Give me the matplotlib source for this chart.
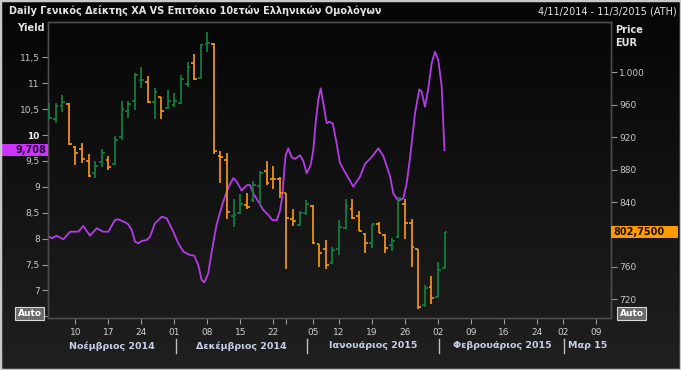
import numpy as np
import pandas as pd
import matplotlib
matplotlib.use('Agg')
import matplotlib.pyplot as plt
from matplotlib.patches import Rectangle
from matplotlib.lines import Line2D
from matplotlib.colors import LinearSegmentedColormap
from matplotlib.transforms import blended_transform_factory

plt.rcParams['font.family'] = ['DejaVu Sans']

# ---------------- data ----------------
holidays = ['2014-12-24', '2014-12-25', '2014-12-26', '2015-01-01', '2015-01-06', '2015-02-23']
dates = pd.bdate_range('2014-11-04', '2015-03-11', freq='C', holidays=holidays)

price_open = [943, 942, 958, 961, 908, 906, 890, 876, 889, 892, 887, 920, 952, 964, 990, 988,
              963, 969, 955.5, 960, 962, 985, 1012, 993.5, 1035, 1035, 897, 892, 823, 826, 836,
              842, 860, 878.5, 869, 869, 851, 819, 811.5, 827, 835, 788, 782, 764.5, 782, 808,
              831, 823, 800, 789, 813, 799, 787, 797, 837, 814, 781.5, 713, 735, 723, 758.5]
price_high = [962, 962, 972, 962, 909, 913, 899, 890, 905, 897, 921, 965, 964, 999, 1006, 995,
              980, 970, 978, 974, 997, 1013, 1023, 1034.5, 1050, 1035.5, 903, 900, 843.5, 849.5,
              851, 866.5, 878.5, 891, 884, 870.5, 851.5, 831, 829, 842.5, 836, 788.3, 793, 784.5,
              818, 843.5, 843.5, 828.5, 801.5, 813, 815.5, 800, 796, 846, 843.5, 819, 782, 738,
              748.5, 766, 802.75]
price_low = [943, 937, 951, 910, 886, 888, 871, 870, 883, 879, 886, 917, 944, 953, 980, 962,
             943, 943, 955, 957, 961, 982, 991, 992.5, 1025, 899, 863, 819, 809.5, 825.5, 832,
             840, 836, 861, 855.5, 844.5, 757, 810.5, 810.5, 824, 788, 760, 758, 763.5, 775, 807,
             819, 804.5, 777.5, 783, 801.5, 777.5, 780, 796, 794, 760, 708, 710.5, 714, 722.5, 758]
price_close = [944, 958, 963, 911, 901, 893, 872, 884, 900, 883, 917, 955, 961, 997, 991, 963,
               976, 952, 965, 964, 992, 1007, 992, 1033.5, 1036, 903, 895, 828, 824.5, 837, 834,
               861, 876, 863, 868, 851, 820, 816, 826.5, 838, 789, 777.7, 762, 781, 809, 835,
               820, 804.6, 790, 812.5, 802, 783, 792.5, 844.5, 814, 784, 710.5, 733.5, 722, 756,
               802.75]

# yield curve samples (position in trading days from 4/11/2014, yield %)
yield_pos = [-0.22, 0.39, 1.15, 2.15, 3.17, 4.42, 5.18, 6.20, 7.22, 8.22, 8.98, 9.99, 10.49,
             11.51, 12.01, 12.53, 13.03, 13.53, 14.05, 14.80, 15.31, 16.06, 17.08, 17.84, 18.60,
             19.60, 20.36, 21.37, 22.03, 22.63, 23.15, 23.54, 24.15, 24.67, 25.43, 26.43, 27.19,
             27.95, 28.46, 29.22, 29.98, 30.48, 30.98, 31.74, 32.50, 33.26, 33.86, 34.53, 35.03,
             35.38, 35.68, 35.90, 36.29, 36.81, 37.31, 38.07, 38.57, 39.08, 39.69, 40.08, 40.49,
             40.84, 41.21, 41.60, 42.12, 42.51, 43.03, 43.53, 44.14, 45.15, 46.15, 47.17, 47.93,
             48.95, 49.95, 50.71, 51.72, 52.22, 52.98, 53.74, 54.26, 54.76, 55.52, 56.17, 56.53,
             57.03, 57.54, 58.05, 58.55, 59.05, 59.57, 59.81, 59.99]
yield_val = [8.058, 8.008, 8.058, 7.988, 8.135, 8.135, 8.245, 8.058, 8.201, 8.135, 8.135, 8.361,
             8.375, 8.317, 8.278, 8.168, 7.942, 7.911, 7.956, 7.975, 8.039, 8.297, 8.425, 8.394,
             8.201, 7.911, 7.749, 7.685, 7.672, 7.492, 7.203, 7.158, 7.332, 7.749, 8.284, 8.718,
             8.988, 9.172, 9.100, 8.927, 9.031, 9.037, 8.876, 8.714, 8.554, 8.458, 8.361, 8.355,
             8.535, 8.811, 9.326, 9.616, 9.745, 9.571, 9.539, 9.610, 9.500, 9.263, 9.423, 9.712,
             10.292, 10.678, 10.903, 10.614, 10.228, 10.259, 10.228, 9.905, 9.456, 9.230, 9.004,
             9.197, 9.442, 9.577, 9.745, 9.597, 9.210, 8.876, 8.728, 8.780, 9.069, 9.558, 10.421,
             10.884, 10.838, 10.548, 10.903, 11.386, 11.610, 11.450, 10.934, 10.228, 9.708]

tick_dates = ['2014-11-10', '2014-11-17', '2014-11-24', '2014-12-01', '2014-12-08', '2014-12-15',
              '2014-12-22', '2014-12-29', '2015-01-05', '2015-01-12', '2015-01-19', '2015-01-26',
              '2015-02-02', '2015-02-09', '2015-02-16', '2015-02-24', '2015-03-02', '2015-03-09']
tick_labels = ['10', '17', '24', '01', '08', '15', '22', '', '05', '12', '19', '26',
               '02', '09', '16', '24', '02', '09']
month_starts = ['2014-12-01', '2015-01-02', '2015-02-02', '2015-03-02']
month_labels = ['Νοέμβριος 2014', 'Δεκέμβριος 2014', 'Ιανουάριος 2015', 'Φεβρουάριος 2015', 'Μαρ 15']

yield_ticks = [6.5, 7, 7.5, 8, 8.5, 9, 9.5, 10, 10.5, 11, 11.5]
yield_tick_labels = ['', '7', '7,5', '8', '8,5', '9', '9,5', '10', '10,5', '11', '11,5']
price_ticks = [720, 760, 800, 840, 880, 920, 960, 1000]
price_tick_labels = ['720', '760', '', '840', '880', '920', '960', '1.000']

# ---------------- figure ----------------
W, H = 681, 370
fig = plt.figure(figsize=(W / 100, H / 100), dpi=100)

bg = fig.add_axes([0, 0, 1, 1], zorder=-10)
grad = np.linspace(0, 1, 256).reshape(-1, 1)
cmap = LinearSegmentedColormap.from_list('bg', ['#050505', '#202020'])
bg.imshow(grad, aspect='auto', cmap=cmap, extent=[0, 1, 0, 1], origin='upper')
bg.set_axis_off()

L, R, T, B = 48, 611, 22, 318
ax = fig.add_axes([L / W, 1 - B / H, (R - L) / W, (B - T) / H])
ax.set_facecolor('none')
ax2 = ax.twinx()
ax2.set_facecolor('none')

ax.set_xlim(-0.17, 85.26)
ax.set_ylim(6.469, 12.183)
ax2.set_ylim(697, 1062)

for a in (ax, ax2):
    for s in a.spines.values():
        s.set_color('#4c4c4c')
        s.set_linewidth(1.0)

# purple yield line
ax.plot(yield_pos, yield_val, color='#b43ce6', lw=1.3, solid_joinstyle='round', zorder=2)

# OHLC bars
xpos = np.arange(len(price_open))
green, orange = '#12803f', '#f5951c'
for i in xpos:
    o, h, l, c = price_open[i], price_high[i], price_low[i], price_close[i]
    col = green if c >= o else orange
    ax2.vlines(i, l, h, colors=col, lw=1.25, zorder=3)
    ax2.hlines(o, i - 0.42, i, colors=col, lw=1.25, zorder=3)
    ax2.hlines(c, i, i + 0.42, colors=col, lw=1.25, zorder=3)

# axis ticks
tick_pos = [dates.get_loc(pd.Timestamp(d)) for d in tick_dates]
ax.set_xticks(tick_pos)
ax.set_xticklabels(tick_labels)
ax.tick_params(axis='x', direction='out', length=4, color='#9a9a9a', labelcolor='#d0d0d0',
               labelsize=6.5, pad=3)
ax.set_yticks(yield_ticks)
ax.set_yticklabels(yield_tick_labels)
ax.tick_params(axis='y', direction='out', length=4, color='#9a9a9a', labelcolor='#c8c8c8',
               labelsize=6.5, pad=2)
for lab in ax.get_yticklabels():
    if lab.get_text() == '10':
        lab.set_fontweight('bold')
        lab.set_color('#f0f0f0')
ax2.set_yticks(price_ticks)
ax2.set_yticklabels(price_tick_labels)
ax2.tick_params(axis='y', direction='out', length=4, color='#9a9a9a', labelcolor='#c8c8c8',
                labelsize=6.5, pad=2)

# month labels and separators
bt = blended_transform_factory(ax.transData, fig.transFigure)
sep_pos = [dates.get_loc(pd.Timestamp(d)) + 0.2 for d in month_starts]
edges = [ax.get_xlim()[0]] + sep_pos + [ax.get_xlim()[1]]
ym = 1 - 346 / H
for k, lab in enumerate(month_labels):
    fig.text((edges[k] + edges[k + 1]) / 2, ym, lab, transform=bt, ha='center', va='center',
             fontsize=6.8, fontweight='bold', color='#c6d0ea')
for sx in sep_pos:
    fig.add_artist(Line2D([sx, sx], [1 - 339 / H, 1 - 353 / H], transform=bt,
                          color='#c0c0c0', lw=1.0))

# titles
fig.text(9 / W, 1 - 11 / H, 'Daily Γενικός Δείκτης ΧΑ VS Επιτόκιο 10ετών Ελληνικών Ομολόγων',
         ha='left', va='center', fontsize=7, fontweight='bold', color='#e4e4e4')
fig.text(677 / W, 1 - 11 / H, '4/11/2014 - 11/3/2015 (ATH)', ha='right', va='center',
         fontsize=7, color='#e4e4e4')
fig.text(45 / W, 1 - 28 / H, 'Yield', ha='right', va='center', fontsize=7,
         fontweight='bold', color='#e4e4e4')
fig.text(615 / W, 1 - 30 / H, 'Price', ha='left', va='center', fontsize=7,
         fontweight='bold', color='#e4e4e4')
fig.text(615 / W, 1 - 43 / H, 'EUR', ha='left', va='center', fontsize=7,
         fontweight='bold', color='#e4e4e4')

# last value boxes
fig.canvas.draw()
ydisp = ax.transData.transform((0, yield_val[-1]))[1]
pdisp = ax2.transData.transform((0, price_close[-1]))[1]
fig.add_artist(Rectangle((2 / W, (ydisp - 6) / H), 46 / W, 12 / H, transform=fig.transFigure,
                         facecolor='#cc33ff', edgecolor='none', zorder=5))
fig.text(46 / W, ydisp / H, '9,708', ha='right', va='center', fontsize=7, fontweight='bold',
         color='#1a0022', zorder=6)
fig.add_artist(Rectangle((611 / W, (pdisp - 6) / H), 67 / W, 12 / H, transform=fig.transFigure,
                         facecolor='#ff9a00', edgecolor='none', zorder=5))
fig.text(613 / W, pdisp / H, '802,7500', ha='left', va='center', fontsize=7, fontweight='bold',
         color='#1a1000', zorder=6)

# Auto buttons
for x0 in (15, 617):
    fig.add_artist(Rectangle((x0 / W, 1 - 320 / H), 29 / W, 13 / H, transform=fig.transFigure,
                             facecolor='#6a6a6a', edgecolor='#d8d8d8', lw=0.8, zorder=5))
    fig.text((x0 + 14.5) / W, 1 - 313.5 / H, 'Auto', ha='center', va='center', fontsize=6.5,
             fontweight='bold', color='#ffffff', zorder=6)

# window border
fig.add_artist(Rectangle((0, 0), 1, 1, transform=fig.transFigure, fill=False,
                         edgecolor='#c8c8c8', lw=2.5, zorder=10))

fig.savefig('out.png', dpi=100, facecolor='#101010')
